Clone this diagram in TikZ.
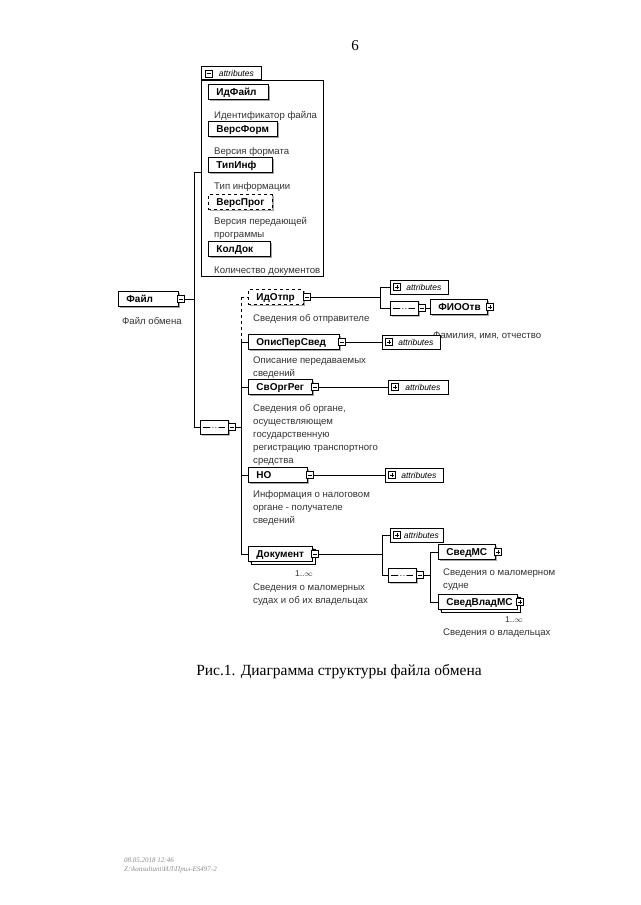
\documentclass[tikz,border=0pt]{standalone}
\usepackage{fontspec}
\setmainfont{Liberation Serif}
\setsansfont{Liberation Sans}
\usetikzlibrary{positioning, shapes.misc, shadows}

\tikzset{
  elem/.style={draw, fill=white, line width=0.9pt, text width=#1,
    font=\sffamily\bfseries\fontsize{10}{12}\selectfont, text height=7.5pt, text depth=1.5pt,
    minimum height=15pt, inner xsep=8pt, inner ysep=0pt, anchor=west, align=left,
    drop shadow={shadow xshift=1.5pt, shadow yshift=-1.5pt, fill=black!35, opacity=1}},
  elem/.default=44pt,
  optelem/.style={elem=#1, dashed},
  multielem/.style={elem=#1, copy shadow={shadow xshift=2.5pt, shadow yshift=-2.5pt, draw, fill=white}},
  desc/.style={anchor=north west, inner sep=0pt, text=black!80, align=left,
    font=\sffamily\fontsize{9.6}{13}\selectfont},
  attrbox/.style={draw, fill=white, line width=0.7pt, anchor=west, minimum height=14pt,
    inner xsep=2pt, inner ysep=0pt, font=\sffamily\itshape\fontsize{8.5}{10}\selectfont},
  seqnode/.style={chamfered rectangle, chamfered rectangle xsep=4pt, draw, fill=white,
    line width=0.7pt, minimum width=28pt, minimum height=14pt, inner sep=0pt, anchor=west,
    drop shadow={shadow xshift=1.5pt, shadow yshift=-1.5pt, fill=black!35, opacity=1},
    path picture={
      \draw[line width=0.8pt] ([xshift=3pt]path picture bounding box.west) -- ([xshift=-3pt]path picture bounding box.east);
      \foreach \dx in {-3,0,3}
        \fill ([xshift=\dx pt]path picture bounding box.center) circle (1.5pt);
    }},
  pmbox/.style={draw, fill=white, line width=0.6pt, minimum size=7pt, inner sep=0pt},
  minus/.style={pmbox, path picture={
      \draw ([xshift=-2pt]path picture bounding box.center) -- ([xshift=2pt]path picture bounding box.center);}},
  plus/.style={pmbox, path picture={
      \draw ([xshift=-2pt]path picture bounding box.center) -- ([xshift=2pt]path picture bounding box.center)
            ([yshift=-2pt]path picture bounding box.center) -- ([yshift=2pt]path picture bounding box.center);}},
  conn/.style={line width=0.8pt}
}

\begin{document}
\begin{tikzpicture}[x=1pt, y=-1pt]
  \useasboundingbox[fill=white] (0,0) rectangle (640,905);

  % page number
  \node[font=\fontsize{15}{17}\selectfont] (pageNo) at (355,46) {6};

  % attribute group of the root
  \node[draw, line width=0.7pt, minimum width=122pt, minimum height=196pt, anchor=north west, inner sep=0pt] (attrGroup) at (201,80) {};
  \node[attrbox, anchor=south west, minimum width=60pt, minimum height=13pt] (attrTab) at (201,80) {\hspace{10pt}attributes};
  \node[minus] (attrTabM) at (209,73.5) {};

  \node[elem=44pt] (idFile) at (208,92) {ИдФайл};
  \node[desc] at (214,111) {Идентификатор файла};
  \node[elem=53pt] (versForm) at (208,129) {ВерсФорм};
  \node[desc] at (214,147) {Версия формата};
  \node[elem=48pt] (tipInf) at (208,165) {ТипИнф};
  \node[desc] at (214,182) {Тип информации};
  \node[optelem=48pt] (versProg) at (208,202) {ВерсПрог};
  \node[desc] at (214,217) {Версия передающей\\программы};
  \node[elem=46pt] (kolDok) at (208,249) {КолДок};
  \node[desc] at (214,267) {Количество документов};

  % root element
  \node[elem=44pt] (file) at (118,299) {Файл};
  \node[minus] (fileM) at ([xshift=2pt]file.east) {};
  \node[desc] at (122,317) {Файл обмена};

  % root sequence
  \node[seqnode] (seqMain) at (200,427) {};
  \node[minus] (seqMainM) at ([xshift=3pt]seqMain.east) {};

  \coordinate (busA) at (194,172);
  \coordinate (busB) at (194,427);
  \draw[conn] (fileM.east) -- (busA |- fileM);
  \draw[conn] (busA) -- (busB);
  \draw[conn] (busA) -- (busA -| attrGroup.west);
  \draw[conn] (busB) -- (seqMain.west);

  % children of the sequence
  \node[optelem=39pt] (idOtpr) at (248,297) {ИдОтпр};
  \node[minus] (idOtprM) at ([xshift=3pt]idOtpr.east) {};
  \node[desc] at (253,314) {Сведения об отправителе};

  \node[elem=75pt] (opisPerSved) at (248,342) {ОписПерСвед};
  \node[minus] (opisPerSvedM) at ([xshift=2pt]opisPerSved.east) {};
  \node[desc] at (253,357) {Описание передаваемых\\сведений};

  \node[elem=48pt] (svOrgReg) at (248,387) {СвОргРег};
  \node[minus] (svOrgRegM) at ([xshift=2pt]svOrgReg.east) {};
  \node[desc] at (253,404) {Сведения об органе,\\осуществляющем\\государственную\\регистрацию транспортного\\средства};

  \node[elem=43pt] (nalOrg) at (248,475) {НО};
  \node[minus] (nalOrgM) at ([xshift=2pt]nalOrg.east) {};
  \node[desc] at (253,490) {Информация о налоговом\\органе - получателе\\сведений};

  \node[multielem=48pt] (dokument) at (248,554) {Документ};
  \node[minus] (dokumentM) at ([xshift=2pt]dokument.east) {};
  \node[font=\sffamily\fontsize{8.5}{9}\selectfont, text=black!80] (dokumentOcc) at (304,574) {1..\(\infty\)};
  \node[desc] at (253,584) {Сведения о маломерных\\судах и об их владельцах};

  \coordinate (busC) at (241,297);
  \coordinate (busD) at (241,342);
  \coordinate (busE) at (241,554);
  \draw[conn] (seqMainM.east) -- (busC |- seqMainM);
  \draw[conn, dashed] (busC) -- (busD);
  \draw[conn] (busD) -- (busE);
  \draw[conn, dashed] (busC) -- (idOtpr.west);
  \draw[conn] (busD) -- (opisPerSved.west);
  \draw[conn] (busD |- svOrgReg) -- (svOrgReg.west);
  \draw[conn] (busD |- nalOrg) -- (nalOrg.west);
  \draw[conn] (busE) -- (dokument.west);

  % ИдОтпр content
  \node[attrbox, minimum width=58pt] (attrOtpr) at (390,287) {\hspace{9pt}attributes};
  \node[plus] at ([xshift=7pt]attrOtpr.west) {};
  \node[seqnode] (seqOtpr) at (390,308) {};
  \node[minus] (seqOtprM) at ([xshift=3pt]seqOtpr.east) {};
  \node[elem=41pt] (fioOtv) at (430,307) {ФИООтв};
  \node[plus] at ([xshift=2pt]fioOtv.east) {};
  \node[desc] at (433,332) {Фамилия, имя, отчество};
  \coordinate (busF) at (380,287);
  \coordinate (busG) at (380,308);
  \draw[conn] (idOtprM.east) -- (busF |- idOtprM);
  \draw[conn] (busF) -- (busG);
  \draw[conn] (busF) -- (attrOtpr.west);
  \draw[conn] (busG) -- (seqOtpr.west);
  \draw[conn] (seqOtprM.east) -- (fioOtv.west |- seqOtprM);

  % attributes of the other children
  \node[attrbox, minimum width=58pt] (attrOpis) at (382,342) {\hspace{9pt}attributes};
  \node[plus] at ([xshift=7pt]attrOpis.west) {};
  \draw[conn] (opisPerSvedM.east) -- (attrOpis.west);
  \node[attrbox, minimum width=60pt] (attrSvOrg) at (388,387) {\hspace{9pt}attributes};
  \node[plus] at ([xshift=7pt]attrSvOrg.west) {};
  \draw[conn] (svOrgRegM.east) -- (attrSvOrg.west);
  \node[attrbox, minimum width=58pt] (attrNO) at (385,475) {\hspace{9pt}attributes};
  \node[plus] at ([xshift=7pt]attrNO.west) {};
  \draw[conn] (nalOrgM.east) -- (attrNO.west);

  % Документ content
  \node[attrbox, minimum width=53pt] (attrDok) at (390,535) {\hspace{9pt}attributes};
  \node[plus] at ([xshift=7pt]attrDok.west) {};
  \node[seqnode] (seqDok) at (388,575) {};
  \node[minus] (seqDokM) at ([xshift=3pt]seqDok.east) {};
  \coordinate (busH) at (382,535);
  \coordinate (busI) at (382,575);
  \draw[conn] (dokumentM.east) -- (busH |- dokumentM);
  \draw[conn] (busH) -- (busI);
  \draw[conn] (busH) -- (attrDok.west);
  \draw[conn] (busI) -- (seqDok.west);

  \node[elem=41pt] (svedMS) at (438,552) {СведМС};
  \node[plus] at ([xshift=2pt]svedMS.east) {};
  \node[desc] at (443,569) {Сведения о маломерном\\судне};
  \node[multielem=63pt] (svedVladMS) at (438,602) {СведВладМС};
  \node[plus] at ([xshift=2pt]svedVladMS.east) {};
  \node[font=\sffamily\fontsize{8.5}{9}\selectfont, text=black!80] (svedVladMSOcc) at (514,620) {1..\(\infty\)};
  \node[desc] at (443,629) {Сведения о владельцах};
  \coordinate (busJ) at (430,552);
  \coordinate (busK) at (430,602);
  \draw[conn] (seqDokM.east) -- (busJ |- seqDokM);
  \draw[conn] (busJ) -- (busK);
  \draw[conn] (busJ) -- (svedMS.west);
  \draw[conn] (busK) -- (svedVladMS.west);

  % caption and footer
  \node[font=\fontsize{15.5}{18}\selectfont] (caption) at (339,672) {Рис.1. Диаграмма структуры файла обмена};
  \node[anchor=north west, inner sep=0pt, align=left, text=black!45,
    font=\itshape\fontsize{7}{9}\selectfont] (footer) at (124,858) {08.05.2018 12:46\\Z:\textbackslash konsultant\textbackslash ИЛ\textbackslash Прил-ES497-2};
\end{tikzpicture}
\end{document}
